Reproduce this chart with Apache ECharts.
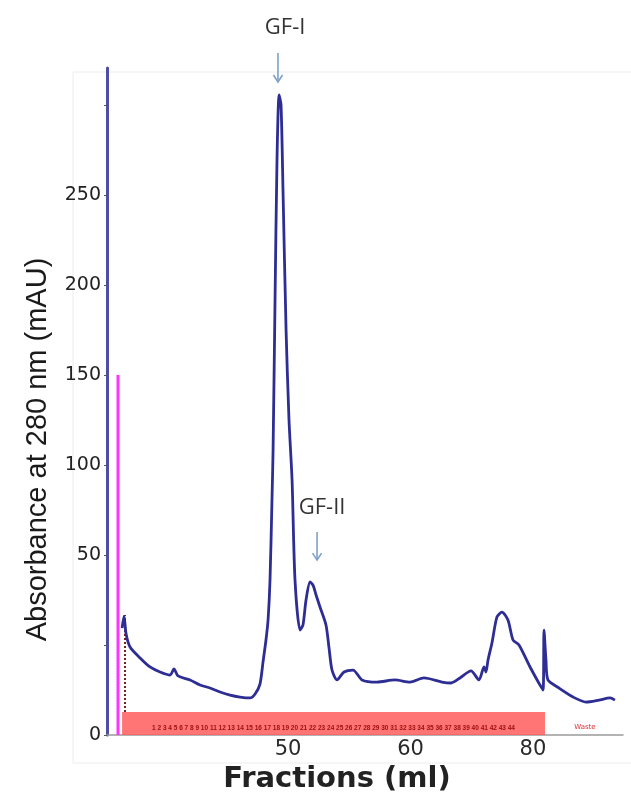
<!DOCTYPE html>
<html>
<head>
<meta charset="utf-8">
<script src="https://cdn.jsdelivr.net/npm/echarts@6/dist/echarts.min.js"></script>
<style>
  html, body { margin: 0; padding: 0; background: #fff; }
  #chart { width: 631px; height: 800px; }
</style>
</head>
<body>
<div id="chart"></div>
<script>
// elution volume (axis units) and absorbance
var elutionMl = [36.45, 36.61, 36.78, 37.10, 37.92, 38.73, 39.55, 40.37, 40.69, 41.02,
  42.00, 42.82, 43.63, 44.45, 45.27, 46.08, 46.90, 47.31, 47.71, 47.96,
  48.20, 48.37, 48.53, 48.69, 48.78, 48.94, 49.10, 49.27, 49.43, 49.59,
  49.84, 50.08, 50.33, 50.57, 50.98, 51.22, 51.47, 51.80, 52.04, 52.29,
  52.61, 53.10, 53.35, 53.59, 54.00, 54.57, 55.31, 56.04, 57.27, 58.73,
  59.96, 61.10, 62.57, 63.31, 64.04, 64.94, 65.59, 66.00, 66.16, 66.33,
  66.65, 67.06, 67.47, 67.96, 68.37, 68.86, 69.76, 70.82, 70.90, 71.06,
  71.22, 72.12, 73.27, 74.33, 75.39, 76.29, 76.69];
var absorbance = [9.4, 16.1, 6.1, -1.1, -7.2, -12.2, -15.0, -16.7, -13.3, -17.2,
  -19.4, -22.2, -23.9, -26.1, -27.8, -28.9, -29.4, -27.2, -21.7, -9.4,
  2.8, 13.9, 36.1, 80.6, 108.3, 191.7, 269.4, 305.6, 300, 252.8,
  175, 125, 91.7, 36.1, 8.3, 11.1, 25, 35, 33.3, 27.8,
  21.1, 11.1, -1.7, -13.9, -19.4, -15.0, -13.9, -19.4, -20.6, -19.4,
  -20.6, -18.3, -20.6, -21.1, -18.3, -14.4, -19.4, -12.2, -15.0, -8.3,
  1.1, 15.6, 18.3, 13.9, 2.8, 0, -12.2, -25, 8.3, -8.3,
  -19.4, -23.9, -28.9, -31.7, -30.6, -29.4, -30.6];

// injection marker (magenta)
var injectionMl = 36.12;
var injectionTop = 150;

// fraction collector band
var fractionStartMl = 36.45;
var fractionEndMl = 70.98;
var fractionBandTop = -37.2;
var fractionNumbers = '1 2 3 4 5 6 7 8 9 10 11 12 13 14 15 16 17 18 19 20 21 22 23 24 25 26 27 28 29 30 31 32 33 34 35 36 37 38 39 40 41 42 43 44';

// tick labels as printed on the figure
var xTickValues = [50, 60, 70];
var xTickText = ['50', '60', '80'];
var yTickText = { '-50': '0', '50': '50', '100': '100', '150': '150', '200': '200', '250': '250' };

// peak annotations
var peakNames = ['GF-I', 'GF-II'];
var peakArrowX = [49.18, 52.37];
var peakArrowFrom = [328.9, 62.8];
var peakArrowTo = [312.8, 47.2];
var peakLabelX = [49.76, 52.78];
var peakLabelY = [342.8, 76.1];

var trace = [];
for (var i = 0; i < elutionMl.length; i++) {
  trace.push([elutionMl[i], absorbance[i]]);
}

var frame = {
  type: 'rect',
  silent: true,
  z: -10,
  shape: { x: 73, y: 72, width: 600, height: 691 },
  style: { fill: 'none', stroke: '#ececec', lineWidth: 1 }
};

var myChart = echarts.init(document.getElementById('chart'));
var option = {
  animation: false,
  backgroundColor: '#fff',
  grid: { left: 107, right: 8, top: 68, bottom: 65 },
  graphic: [frame],
  xAxis: {
    type: 'value',
    min: 35.22,
    max: 77.35,
    name: 'Fractions (ml)',
    nameLocation: 'middle',
    nameGap: 28,
    nameTextStyle: {
      fontFamily: 'DejaVu Sans', fontWeight: 'bold', fontSize: 29, color: '#222',
      padding: [0, 56, 0, 0]
    },
    axisLine: { show: true, onZero: false, lineStyle: { color: '#9a9a9a', width: 1.5 } },
    axisTick: { show: false },
    splitLine: { show: false },
    axisLabel: {
      customValues: xTickValues,
      margin: 4,
      fontFamily: 'DejaVu Sans', fontSize: 21, color: '#2a2a2a',
      formatter: function (v) {
        var idx = xTickValues.indexOf(v);
        return idx >= 0 ? xTickText[idx] : '';
      }
    }
  },
  yAxis: {
    type: 'value',
    min: -50,
    max: 320.6,
    interval: 50,
    name: 'Absorbance at 280 nm (mAU)',
    nameLocation: 'middle',
    nameRotate: 90,
    nameGap: 55,
    nameTextStyle: {
      fontFamily: 'Liberation Sans', fontSize: 29, color: '#1a1a1a',
      padding: [0, 96, 0, 0]
    },
    axisLine: { show: true, onZero: false, lineStyle: { color: '#4e4ea3', width: 3 } },
    axisTick: { show: true, length: 3, lineStyle: { color: '#555' } },
    splitLine: { show: false },
    axisLabel: {
      margin: 6,
      fontFamily: 'DejaVu Sans', fontSize: 19, color: '#222',
      showMaxLabel: false,
      formatter: function (v) {
        return yTickText[String(v)] || '';
      }
    }
  },
  series: [
    {
      name: 'injection',
      type: 'line',
      data: [[injectionMl, -50], [injectionMl, injectionTop]],
      symbol: 'none',
      lineStyle: { color: '#ff33ff', width: 3 },
      z: 3
    },
    {
      name: 'A280',
      type: 'line',
      data: trace,
      symbol: 'none',
      smooth: 0.25,
      lineStyle: { color: '#2d2d94', width: 2.8 },
      z: 5,
      markArea: {
        silent: true,
        itemStyle: { color: '#ff5c5c', opacity: 0.85 },
        label: {
          show: true,
          position: 'insideBottom',
          distance: 3,
          formatter: fractionNumbers,
          fontSize: 6.5,
          fontWeight: 'bold',
          color: '#a01010'
        },
        data: [[
          { coord: [fractionStartMl, -50] },
          { coord: [fractionEndMl, fractionBandTop] }
        ]]
      },
      markLine: {
        silent: true,
        symbol: 'none',
        label: { show: false },
        lineStyle: { color: '#7a1f1f', width: 2, type: 'dotted' },
        data: [[
          { coord: [36.69, fractionBandTop] },
          { coord: [36.69, 16.7] }
        ]]
      },
      markPoint: {
        silent: true,
        symbol: 'rect',
        symbolSize: 1,
        itemStyle: { color: 'rgba(0,0,0,0)' },
        label: { show: true, position: 'inside', formatter: '{c}' },
        data: [{
          coord: [74.24, -45.5],
          value: 'Waste',
          label: { fontSize: 7, color: '#e03030', fontFamily: 'DejaVu Sans' }
        }]
      }
    }
  ]
};
myChart.setOption(option);

// peak arrows and names, placed through the axes' own scale
var notes = [frame];
for (var k = 0; k < peakNames.length; k++) {
  var from = myChart.convertToPixel({ gridIndex: 0 }, [peakArrowX[k], peakArrowFrom[k]]);
  var to = myChart.convertToPixel({ gridIndex: 0 }, [peakArrowX[k], peakArrowTo[k]]);
  var lab = myChart.convertToPixel({ gridIndex: 0 }, [peakLabelX[k], peakLabelY[k]]);
  notes.push({
    type: 'line', silent: true,
    shape: { x1: from[0], y1: from[1], x2: to[0], y2: to[1] },
    style: { stroke: '#7fa0c8', lineWidth: 1.6 }
  });
  notes.push({
    type: 'polyline', silent: true,
    shape: { points: [[to[0] - 4.5, to[1] - 7], [to[0], to[1]], [to[0] + 4.5, to[1] - 7]] },
    style: { stroke: '#7fa0c8', lineWidth: 1.6, fill: 'none' }
  });
  notes.push({
    type: 'text', silent: true,
    style: {
      text: peakNames[k], x: lab[0], y: lab[1],
      textAlign: 'center', textVerticalAlign: 'middle',
      fontFamily: 'Open Sans', fontSize: 22, fill: '#333'
    }
  });
}
myChart.setOption({ graphic: notes });
</script>
</body>
</html>
